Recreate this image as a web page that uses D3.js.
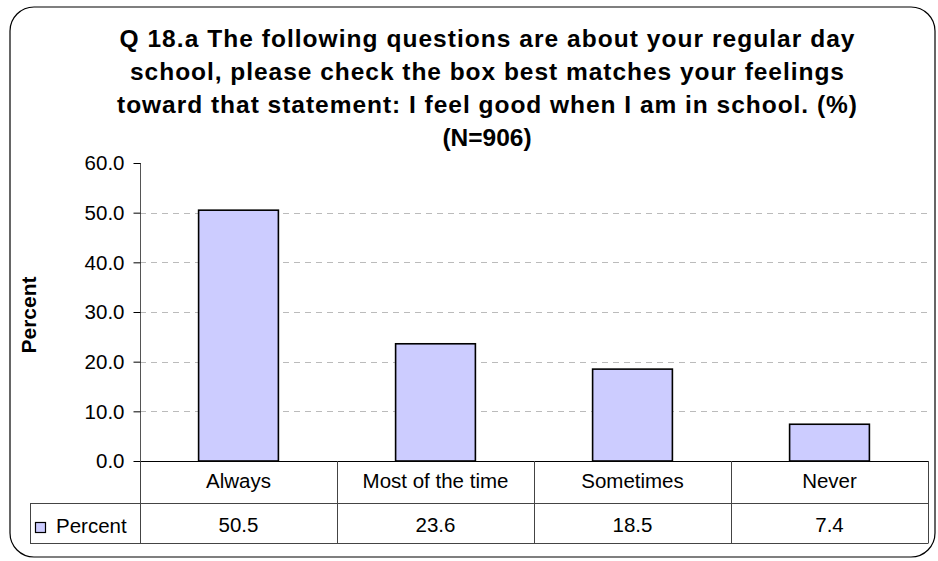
<!DOCTYPE html>
<html><head><meta charset="utf-8">
<script src="https://cdn.jsdelivr.net/npm/d3@7"></script>
<style>body{margin:0;background:#fff;}svg{display:block;font-family:"Liberation Sans",Arial,sans-serif;}</style>
</head><body>
<svg id="c" width="938" height="561"></svg>
<script>
const categories = ["Always", "Most of the time", "Sometimes", "Never"];
const values = [50.5, 23.6, 18.5, 7.4];
const yTicks = [0, 10, 20, 30, 40, 50, 60];
const seriesName = "Percent";
const titleLines = [
  "Q 18.a The following questions are about your regular day",
  "school, please check the box best matches your feelings",
  "toward that statement: I feel good when I am in school. (%)",
  "(N=906)"
];
const titleWidths = [735, 714, 740, null];

const svg = d3.select("#c");
const L = 140, R = 928, T = 163, B = 461;
const row1B = 503, row2B = 543, tableL = 30;
const FONT = "Liberation Sans, Arial, sans-serif";

svg.append("rect").attr("x", 10).attr("y", 7).attr("width", 925).attr("height", 550)
  .attr("rx", 24).attr("ry", 24).attr("fill", "#fff").attr("stroke", "#000").attr("stroke-width", 1.2);

const x = d3.scaleBand().domain(categories).range([L, R]).paddingInner(0).paddingOuter(0);
const y = d3.scaleLinear().domain([0, 60]).range([B, T]);

// title
titleLines.forEach((t, i) => {
  const tx = svg.append("text").attr("text-anchor", "middle").attr("font-weight", "bold")
    .attr("font-size", 24.5).attr("fill", "#000")
    .attr("x", 487).attr("y", 46.5 + i * 33.3).text(t);
  if (titleWidths[i]) tx.attr("textLength", titleWidths[i]).attr("lengthAdjust", "spacing");
});

// grid
svg.append("g").selectAll("line").data(yTicks.filter(d => d > 0 && d < 60)).join("line")
  .attr("x1", L).attr("x2", R).attr("y1", d => Math.round(y(d)) + 0.5).attr("y2", d => Math.round(y(d)) + 0.5)
  .attr("stroke", "#bbb").attr("stroke-dasharray", "6,5");

// bars
const bw = x.bandwidth() * 0.405;
svg.append("g").selectAll("rect").data(values).join("rect")
  .attr("x", (d, i) => x(categories[i]) + x.bandwidth() / 2 - bw / 2)
  .attr("y", d => y(d)).attr("width", bw).attr("height", d => y(0) - y(d))
  .attr("fill", "#ccccff").attr("stroke", "#000").attr("stroke-width", 1.6);

// y axis
const ya = svg.append("g").attr("transform", `translate(${L + 0.5},0)`)
  .call(d3.axisLeft(y).tickValues(yTicks).tickFormat(d3.format(".1f")).tickSize(7).tickPadding(9));
ya.select(".domain").attr("stroke", "#555").attr("d", `M0,${T}V${B}`);
ya.selectAll(".tick line").attr("stroke", "#000");
ya.selectAll(".tick text").attr("font-size", 20.5).attr("fill", "#000").attr("font-family", FONT).attr("dy", "0.34em");

// axis baseline
svg.append("line").attr("x1", L).attr("x2", R).attr("y1", B + 0.5).attr("y2", B + 0.5).attr("stroke", "#000").attr("stroke-width", 1.2);

// y label
svg.append("text").attr("transform", "translate(36,315) rotate(-90)").attr("text-anchor", "middle")
  .attr("font-weight", "bold").attr("font-size", 21).text("Percent");

// data table
const tg = svg.append("g").attr("stroke", "#444").attr("stroke-width", 1);
const bounds = categories.map(c => x(c)).concat([R]);
bounds.forEach(b => tg.append("line").attr("x1", Math.round(b) + 0.5).attr("x2", Math.round(b) + 0.5)
  .attr("y1", B).attr("y2", row2B));
tg.append("line").attr("x1", tableL + 0.5).attr("x2", tableL + 0.5).attr("y1", row1B).attr("y2", row2B);
tg.append("line").attr("x1", tableL).attr("x2", R + 0.5).attr("y1", row1B + 0.5).attr("y2", row1B + 0.5);
tg.append("line").attr("x1", tableL).attr("x2", R + 0.5).attr("y1", row2B + 0.5).attr("y2", row2B + 0.5);

svg.append("g").selectAll("text").data(categories).join("text")
  .attr("x", d => x(d) + x.bandwidth() / 2).attr("y", 488).attr("text-anchor", "middle")
  .attr("font-size", 20.5).text(d => d);
svg.append("g").selectAll("text").data(values).join("text")
  .attr("x", (d, i) => x(categories[i]) + x.bandwidth() / 2).attr("y", 532).attr("text-anchor", "middle")
  .attr("font-size", 20.5).text(d => d.toFixed(1));

// legend
svg.append("rect").attr("x", 35.5).attr("y", 522.5).attr("width", 10).attr("height", 10)
  .attr("fill", "#ccccff").attr("stroke", "#000").attr("stroke-width", 1.2);
svg.append("text").attr("x", 56).attr("y", 533).attr("font-size", 20.5).text(seriesName);
</script>
</body></html>
